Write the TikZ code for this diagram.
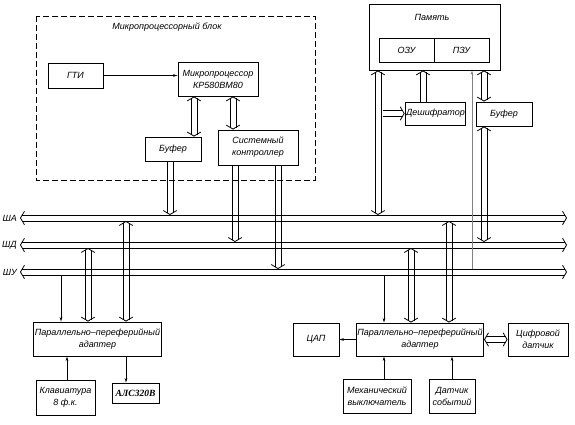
\documentclass[tikz,border=0pt]{standalone}
\usepackage{fontspec}
\setmainfont{Liberation Sans}
\newfontfamily\serifit{Liberation Serif}
\usetikzlibrary{arrows.meta}
\begin{document}
\begin{tikzpicture}[x=1pt,y=-1pt,
 box/.style={draw, line width=0.9pt, inner sep=1pt, align=center, font=\fontsize{9}{12}\selectfont\itshape},
 sarrow/.style={line width=0.6pt, -{Stealth[length=4.5pt,width=2.6pt]}},
 lbl/.style={font=\fontsize{9}{11}\selectfont\itshape, inner sep=1pt},
 pline/.style={line width=0.8pt},
 pairv/.style={postaction={draw, pline, transform canvas={xshift=-3pt}, #1},
               postaction={draw, pline, transform canvas={xshift=3pt}, #1}},
 pairh/.style={postaction={draw, pline, transform canvas={yshift=3pt}, #1},
               postaction={draw, pline, transform canvas={yshift=-3pt}, #1}},
 tipE/.style={postaction={draw, line width=0.8pt, dash pattern=on 0pt off 10000pt, dash phase=1pt, line cap=butt,
               -{Straight Barb[length=4pt,width=13.5pt,line width=0.8pt]}}},
 tipS/.style={postaction={draw, line width=0.8pt, dash pattern=on 0pt off 10000pt, dash phase=1pt, line cap=butt,
               {Straight Barb[length=4pt,width=13.5pt,line width=0.8pt]}-}},
 vE/.style={pairv={shorten >=1.8pt}, tipE},
 vB/.style={pairv={shorten >=1.8pt, shorten <=1.8pt}, tipE, tipS},
 hE/.style={pairh={shorten >=1.8pt}, tipE},
 hB/.style={pairh={shorten >=1.8pt, shorten <=1.8pt}, tipE, tipS}]
\useasboundingbox (0,0) rectangle (575,425);
\fill[white] (0,0) rectangle (575,425);

% microprocessor block frame
\draw[line width=0.7pt, dash pattern=on 6pt off 3pt] (36,16) rectangle (315,180);
\node[lbl] (mpbtitle) at (167,27) {Микропроцессорный блок};

% blocks
\node[box, minimum width=55pt, minimum height=25pt] (gti) at (75.5,75.5) {ГТИ};
\node[box, minimum width=80pt, minimum height=34pt] (mp) at (218,79) {Микропроцессор\\КР580ВМ80};
\node[box, minimum width=56pt, minimum height=24pt] (bufL) at (173,149) {Буфер};
\node[box, minimum width=80pt, minimum height=35pt] (sc) at (258,147.5) {Системный\\контроллер};

\node[box, minimum width=131pt, minimum height=66pt] (mem) at (434.5,37) {};
\node[lbl] (memtitle) at (432,17) {Память};
\node[box, minimum width=55pt, minimum height=24pt] (ozu) at (406.5,50) {ОЗУ};
\node[box, minimum width=55pt, minimum height=24pt] (pzu) at (461.5,50) {ПЗУ};
\node[box, minimum width=57pt, minimum height=23pt] (dec) at (435.5,113.5) {Дешифратор};
\node[box, minimum width=56pt, minimum height=24pt] (bufR) at (504,114) {Буфер};

\node[box, minimum width=123pt, minimum height=34pt] (ppaL) at (97.5,339) {Параллельно–переферийный\\адаптер};
\node[box, minimum width=59pt, minimum height=35pt] (kbd) at (65.5,397.5) {Клавиатура\\8 ф.к.};
\node[box, minimum width=47pt, minimum height=20pt, font=\fontsize{9.5}{11}\serifit\itshape\bfseries] (als) at (135.5,393) {АЛС320В};

\node[box, minimum width=46pt, minimum height=33pt] (dac) at (316,339.5) {ЦАП};
\node[box, minimum width=124pt, minimum height=33pt] (ppaR) at (420,339.5) {Параллельно–переферийный\\адаптер};
\node[box, minimum width=60pt, minimum height=33pt] (dsens) at (538,339.5) {Цифровой\\датчик};
\node[box, minimum width=68pt, minimum height=34pt] (mech) at (377,396) {Механический\\выключатель};
\node[box, minimum width=46pt, minimum height=34pt] (evt) at (452,396) {Датчик\\событий};

% buses
\coordinate (saW) at (20,218); \coordinate (saE) at (567,218);
\coordinate (sdW) at (20,245); \coordinate (sdE) at (567,245);
\coordinate (suW) at (20,272); \coordinate (suE) at (567,272);
\coordinate (saT) at (0,215); \coordinate (saB) at (0,221);
\coordinate (sdT) at (0,242); \coordinate (sdB) at (0,248);
\coordinate (suT) at (0,269); \coordinate (suB) at (0,275);
\path[hB] (saW) -- (saE);
\path[hB] (sdW) -- (sdE);
\path[hB] (suW) -- (suE);
\node[lbl, anchor=east] (saL) at (18,218) {ША};
\node[lbl, anchor=east] (sdL) at (18,245) {ШД};
\node[lbl, anchor=east] (suL) at (18,272) {ШУ};

% microprocessor block connections
\draw[sarrow] (gti.east) -- (gti.east -| mp.west);
\path[vB] ([xshift=21pt]bufL.north) -- ([xshift=21pt]bufL.north |- mp.south);
\path[vB] ([xshift=-25pt]sc.north) -- ([xshift=-25pt]sc.north |- mp.south);
\path[vE] ([xshift=-3pt]bufL.south) -- ([xshift=-3pt]bufL.south |- saT);
\path[vE] ([xshift=-23pt]sc.south) -- ([xshift=-23pt]sc.south |- sdT);
\path[vE] ([xshift=20pt]sc.south) -- ([xshift=20pt]sc.south |- suT);

% memory connections
\path[vB] ([xshift=-56.5pt]mem.south) -- ([xshift=-56.5pt]mem.south |- saT);
\path[hE] ([xshift=-52pt]mem.south |- dec.west) -- (dec.west);
\path[vE] ([xshift=-12.5pt]dec.north) -- ([xshift=-12.5pt]dec.north |- mem.south);
\path[vB] ([xshift=-20pt]bufR.north) -- ([xshift=-20pt]bufR.north |- mem.south);
\path[vB] ([xshift=-20pt]bufR.south) -- ([xshift=-20pt]bufR.south |- sdT);
\draw[sarrow, gray] ([xshift=37.5pt]mem.south |- suT) -- ([xshift=37.5pt]mem.south);

% left adapter
\draw[sarrow] ([xshift=-36.5pt]ppaL.north |- suB) -- ([xshift=-36.5pt]ppaL.north);
\path[vB] ([xshift=-9.5pt]ppaL.north |- sdB) -- ([xshift=-9.5pt]ppaL.north);
\path[vB] ([xshift=28.5pt]ppaL.north |- saB) -- ([xshift=28.5pt]ppaL.north);
\draw[sarrow] ([xshift=1.5pt]kbd.north) -- ([xshift=1.5pt]kbd.north |- ppaL.south);
\draw[sarrow] ([xshift=-9.5pt]als.north |- ppaL.south) -- ([xshift=-9.5pt]als.north);

% right adapter
\draw[sarrow] ([xshift=-36pt]ppaR.north |- suB) -- ([xshift=-36pt]ppaR.north);
\path[vB] ([xshift=-9pt]ppaR.north |- sdB) -- ([xshift=-9pt]ppaR.north);
\path[vB] ([xshift=29pt]ppaR.north |- saB) -- ([xshift=29pt]ppaR.north);
\draw[sarrow] (ppaR.west) -- (dac.east);
\path[hB] (ppaR.east) -- (dsens.west);
\draw[sarrow] ([xshift=7pt]mech.north) -- ([xshift=7pt]mech.north |- ppaR.south);
\draw[sarrow] (evt.north) -- (evt.north |- ppaR.south);
\end{tikzpicture}
\end{document}
